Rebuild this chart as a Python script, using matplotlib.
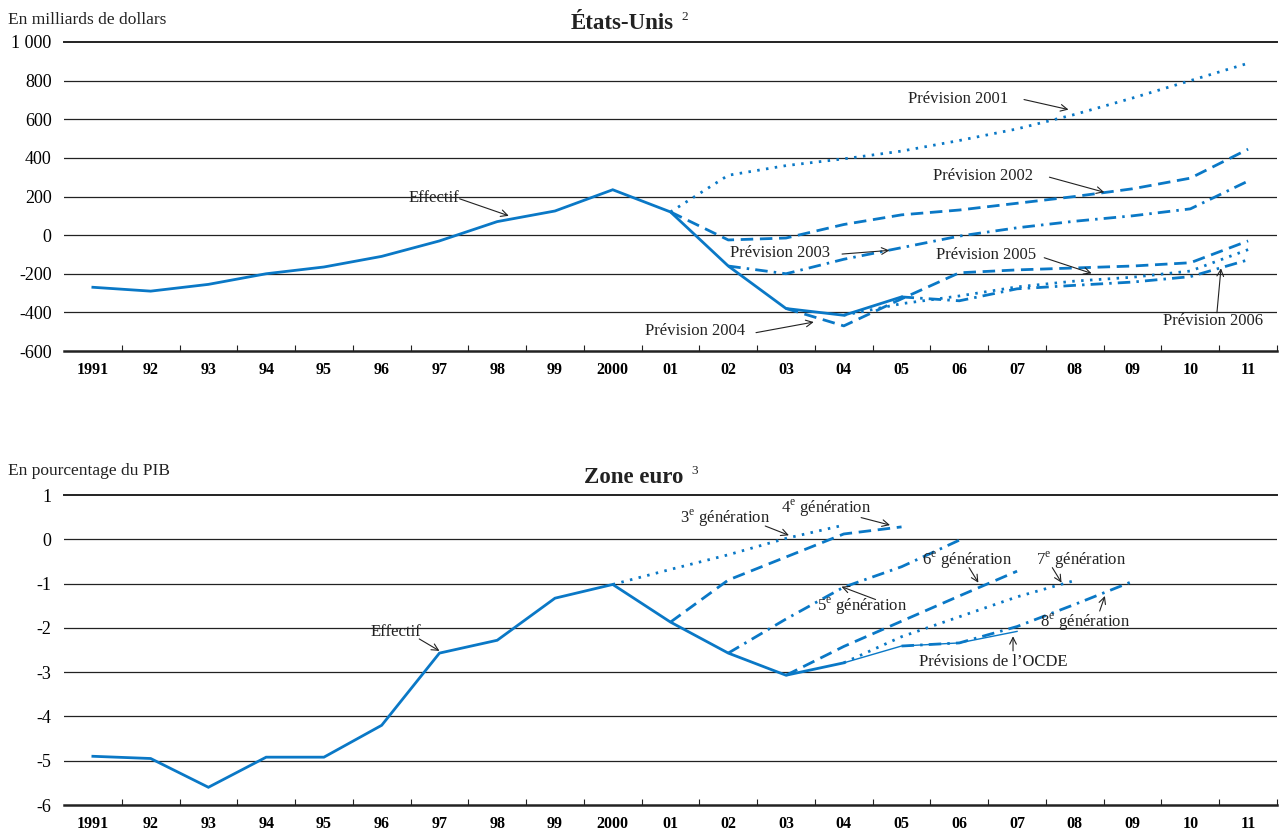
import numpy as np
import matplotlib
matplotlib.use("Agg")
import matplotlib.pyplot as plt

plt.rcParams['font.family'] = ['Liberation Serif', 'DejaVu Serif']
plt.rcParams['mathtext.fontset'] = 'custom'
plt.rcParams['mathtext.rm'] = 'Liberation Serif'

years = ['1991', '92', '93', '94', '95', '96', '97', '98', '99', '2000',
         '01', '02', '03', '04', '05', '06', '07', '08', '09', '10', '11']

# Etats-Unis, milliards de dollars
us_effectif = [-270, -290, -255, -200, -165, -110, -30, 70, 125, 235,
               120, -160, -380, -415, -320]
us_prev_2001 = [120, 310, 360, 395, 435, 490, 550, 625, 710, 800, 890]
us_prev_2002 = [120, -25, -15, 55, 105, 130, 165, 200, 240, 295, 445]
us_prev_2003 = [-160, -200, -125, -65, -5, 38, 72, 100, 136, 280]
us_prev_2004 = [-380, -470, -330, -195, -180, -170, -160, -143, -30]
us_prev_2005 = [-415, -355, -315, -268, -238, -218, -186, -75]
us_prev_2006 = [-320, -340, -278, -260, -243, -215, -128]

# Zone euro, % du PIB
eu_effectif = [-4.9, -4.95, -5.6, -4.92, -4.92, -4.2, -2.57, -2.28, -1.33,
               -1.02, -1.87, -2.57, -3.07, -2.79]
eu_ocde = [-2.79, -2.41, -2.34, -2.08]
eu_gen3 = [-1.02, -0.68, -0.35, 0.02, 0.32]
eu_gen4 = [-1.87, -0.92, -0.4, 0.12, 0.28]
eu_gen5 = [-2.57, -1.8, -1.08, -0.62, -0.02]
eu_gen6 = [-3.07, -2.42, -1.85, -1.28, -0.72]
eu_gen7 = [-2.79, -2.2, -1.75, -1.3, -0.93]
eu_gen8 = [-2.41, -2.34, -1.97, -1.47, -0.95]

blue = '#0a78c6'
dotted = (0, (0.9, 2.3))
dashed = (0, (4.5, 2.4))
dashdot = (0, (4.5, 2.2, 0.9, 2.2))


def plot_from(ax, start, values, style, lw=2.0):
    idx = years.index(start)
    x = np.arange(idx, idx + len(values))
    ax.plot(x, values, color=blue, lw=lw, linestyle=style,
            solid_joinstyle='miter', dash_capstyle='butt')


def note(ax, text, pos, tail, tip, size=12):
    ax.text(pos[0], pos[1], text, ha='center', va='center', fontsize=size,
            color='#222222')
    ax.annotate('', xy=tip, xytext=tail,
                arrowprops=dict(arrowstyle='->', color='#222222', lw=0.8,
                                shrinkA=0, shrinkB=0, mutation_scale=12))


def setup(ax, ymin, ymax, step, labels):
    ax.set_xlim(-0.5, len(years) - 0.5)
    ax.set_ylim(ymin, ymax)
    ticks = np.arange(ymin, ymax + step / 2, step)
    ax.set_yticks(ticks)
    ax.set_yticklabels(labels, fontsize=13)
    ax.tick_params(axis='y', length=0, pad=9)
    ax.set_xticks(np.arange(len(years)))
    ax.set_xticklabels(years, fontsize=11.5, fontweight='bold')
    ax.tick_params(axis='x', which='major', length=0, pad=8)
    ax.set_xticks(np.arange(0.5, len(years), 1.0), minor=True)
    ax.tick_params(axis='x', which='minor', direction='in', length=4,
                   width=0.8, color='#222222')
    for t in ticks[1:-1]:
        ax.axhline(t, color='#222222', lw=0.9, zorder=0)
    for side in ['left', 'right']:
        ax.spines[side].set_visible(False)
    ax.spines['top'].set_linewidth(1.4)
    ax.spines['top'].set_color('#222222')
    ax.spines['bottom'].set_linewidth(1.8)
    ax.spines['bottom'].set_color('#222222')


fig = plt.figure(figsize=(12.8, 8.31), dpi=100)
W, H = 1280.0, 831.0
left = 64 / W
width = (1277 - 64) / W
ax1 = fig.add_axes([left, 1 - 351 / H, width, 309 / H])
ax2 = fig.add_axes([left, 1 - 805 / H, width, 310 / H])

# Etats-Unis
setup(ax1, -600, 1000, 200,
      ['-600', '-400', '-200', '0', '200', '400', '600', '800', '1 000'])
plot_from(ax1, '1991', us_effectif, '-')
plot_from(ax1, '01', us_prev_2001, dotted)
plot_from(ax1, '01', us_prev_2002, dashed)
plot_from(ax1, '02', us_prev_2003, dashdot)
plot_from(ax1, '03', us_prev_2004, dashed)
plot_from(ax1, '04', us_prev_2005, dotted)
plot_from(ax1, '05', us_prev_2006, dashdot)

note(ax1, 'Effectif', (5.9, 190), (6.35, 188), (7.2, 100))
note(ax1, 'Prévision 2001', (14.97, 705), (16.12, 702), (16.89, 650))
note(ax1, 'Prévision 2002', (15.41, 305), (16.56, 300), (17.51, 222))
note(ax1, 'Prévision 2003', (11.9, -91), (12.97, -98), (13.79, -79))
note(ax1, 'Prévision 2004', (10.42, -497), (11.48, -505), (12.48, -450))
note(ax1, 'Prévision 2005', (15.47, -105), (16.47, -117), (17.29, -198))
note(ax1, 'Prévision 2006', (19.4, -445), (19.46, -402), (19.53, -172))

# Zone euro
setup(ax2, -6, 1, 1, ['-6', '-5', '-4', '-3', '-2', '-1', '0', '1'])
plot_from(ax2, '1991', eu_effectif, '-')
plot_from(ax2, '04', eu_ocde, '-', lw=1.0)
plot_from(ax2, '2000', eu_gen3, dotted)
plot_from(ax2, '01', eu_gen4, dashed)
plot_from(ax2, '02', eu_gen5, dashdot)
plot_from(ax2, '03', eu_gen6, dashed)
plot_from(ax2, '04', eu_gen7, dotted)
plot_from(ax2, '05', eu_gen8, dashdot)

sup = r'$^{\mathrm{e}}$'
note(ax2, 'Effectif', (5.25, -2.1), (5.65, -2.25), (6.0, -2.52))
note(ax2, '3' + sup + ' génération', (10.94, 0.47), (11.64, 0.30), (12.05, 0.09))
note(ax2, '4' + sup + ' génération', (12.7, 0.69), (13.3, 0.49), (13.8, 0.32))
note(ax2, '5' + sup + ' génération', (13.31, -1.52), (13.55, -1.36), (12.96, -1.07))
note(ax2, '6' + sup + ' génération', (15.14, -0.47), (15.17, -0.64), (15.33, -0.98))
note(ax2, '7' + sup + ' génération', (17.11, -0.47), (16.61, -0.64), (16.77, -0.98))
note(ax2, '8' + sup + ' génération', (17.18, -1.88), (17.43, -1.62), (17.52, -1.28))
note(ax2, 'Prévisions de l’OCDE', (15.58, -2.77), (15.93, -2.52), (15.93, -2.19))

# titles and units
fig.text(622 / W, 1 - 29 / H, 'États-Unis', ha='center', va='baseline',
         fontsize=16.5, fontweight='bold', color='#222222')
fig.text(681 / W, 1 - 20 / H, '2', ha='left', va='baseline',
         fontsize=9.5, color='#222222')
fig.text(634 / W, 1 - 483 / H, 'Zone euro', ha='center', va='baseline',
         fontsize=16.5, fontweight='bold', color='#222222')
fig.text(691 / W, 1 - 474 / H, '3', ha='left', va='baseline',
         fontsize=9.5, color='#222222')
fig.text(8 / W, 1 - 24 / H, 'En milliards de dollars', ha='left',
         va='baseline', fontsize=12.5, color='#222222')
fig.text(8 / W, 1 - 475 / H, 'En pourcentage du PIB', ha='left',
         va='baseline', fontsize=12.5, color='#222222')

fig.savefig('out.png', dpi=100)
